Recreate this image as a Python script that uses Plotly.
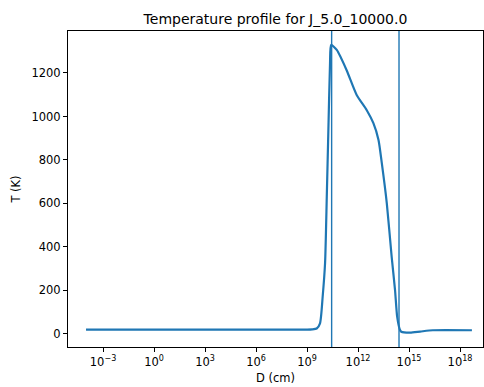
import plotly.graph_objects as go

# Data (distance in cm, temperature in K)
D_cm = [1e-4, 1e9, 2e9, 3.7e9, 5.8e9, 8.3e9, 1.15e10, 1.45e10, 1.8e10, 2.25e10,
        2.6e10, 5.6e10, 2.1e11, 8.3e11, 3.2e12, 8e12, 1.6e13, 2.5e13, 4.9e13,
        9.5e13, 1.5e14, 2.0e14, 2.95e14, 3.5e14, 1.15e15, 4.5e15, 2.5e16, 5e18]
T_K = [20, 20, 21, 25, 49, 171, 326, 631, 938, 1246,
       1329, 1306, 1214, 1099, 1030, 969, 892, 785, 602,
       355, 202, 80, 18, 10, 6, 11, 17, 17]
vlines_D = [2.8e10, 2.57e14]

x_tickvals = [1e-3, 1e0, 1e3, 1e6, 1e9, 1e12, 1e15, 1e18]
x_ticktext = ["10<sup>\u22123</sup>", "10<sup>0</sup>", "10<sup>3</sup>", "10<sup>6</sup>",
              "10<sup>9</sup>", "10<sup>12</sup>", "10<sup>15</sup>", "10<sup>18</sup>"]
y_tickvals = [0, 200, 400, 600, 800, 1000, 1200]

color = "#1f77b4"
fig = go.Figure()
fig.add_trace(go.Scatter(x=D_cm, y=T_K, mode="lines",
                         line=dict(color=color, width=2.2, shape="spline", smoothing=0.6),
                         showlegend=False))
for v in vlines_D:
    fig.add_shape(type="line", x0=v, x1=v, y0=0, y1=1, xref="x", yref="paper",
                  line=dict(color=color, width=1.4))

axis_common = dict(showgrid=False, zeroline=False, showline=True, linecolor="black",
                   linewidth=1, mirror=True, ticks="outside", ticklen=4, tickcolor="black",
                   tickfont=dict(size=11.5, color="black"))
fig.update_xaxes(type="log", range=[-5.06, 19.35], tickvals=x_tickvals, ticktext=x_ticktext,
                 title=dict(text="D (cm)", font=dict(size=11.5, color="black"), standoff=6),
                 **axis_common)
fig.update_yaxes(range=[-60, 1393], tickvals=y_tickvals,
                 title=dict(text="T (K)", font=dict(size=11.5, color="black"), standoff=8),
                 **axis_common)
fig.update_layout(
    width=484, height=387,
    margin=dict(l=68, r=1, t=31, b=40),
    paper_bgcolor="white", plot_bgcolor="white",
    font=dict(family="DejaVu Sans", color="black"),
    title=dict(text="Temperature profile for J_5.0_10000.0", x=0.5, xanchor="center",
               xref="paper", y=1 - 19 / 387, yanchor="middle",
               font=dict(size=14, color="black")),
)
fig.write_html("out.html")
